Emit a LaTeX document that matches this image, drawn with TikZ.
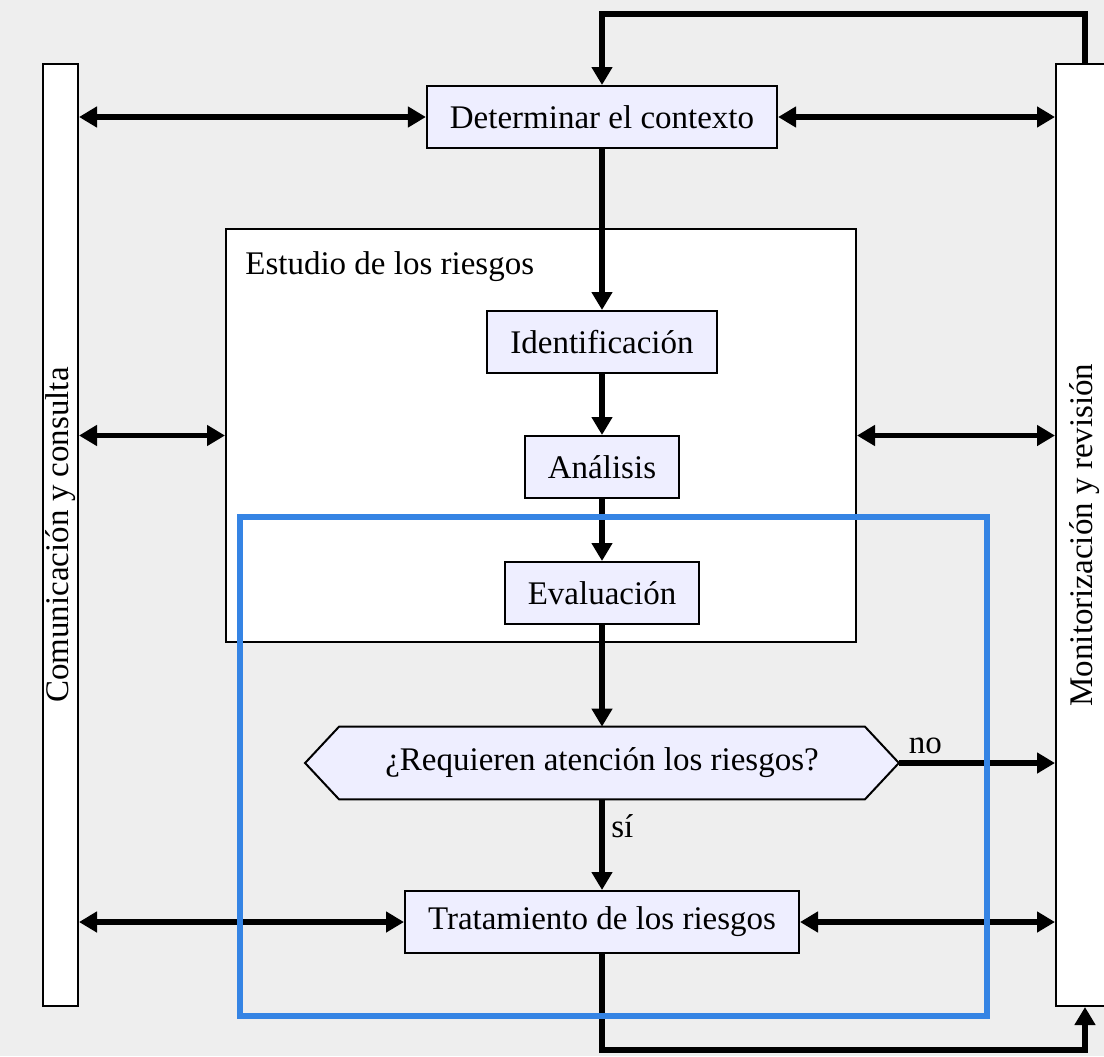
\documentclass[tikz,border=0pt]{standalone}
\usepackage{fontspec}
\setmainfont{Liberation Serif}
\usetikzlibrary{arrows.meta,backgrounds}
\definecolor{fondo}{RGB}{238,238,238}
\definecolor{lila}{RGB}{238,238,255}
\definecolor{azul}{RGB}{53,132,228}
\tikzset{
  paso/.style={draw, line width=1pt, fill=lila, minimum height=31pt, inner xsep=11.5pt},
  lateral/.style={draw, line width=1pt, fill=white, rotate=90, minimum width=471pt, inner sep=0pt},
  punta/.tip={Triangle[length=9pt,width=10pt]},
  flecha/.style={line width=2.6pt, -punta},
  doble/.style={line width=2.6pt, punta-punta}
}
\begin{document}
\begin{tikzpicture}[x=0.5pt, y=-0.5pt, auto, font=\fontsize{16.5}{19}\selectfont]
	\useasboundingbox (0,0) rectangle (1104,1056);
	\node (com) [lateral, minimum height=17.5pt] at (60.5,535) {Comunicación y consulta};
	\node (mon) [lateral, minimum height=29pt] at (1085,535) {Monitorización y revisión};
	\node (est) [draw, line width=1pt, fill=white, minimum width=315pt, minimum height=206.5pt] at (541,435.5) {};
	\node (estlbl) [anchor=west, inner sep=0pt] at ([xshift=10pt,yshift=-19.5pt]est.north west) {Estudio de los riesgos};
	\node (ctx) [paso] at (602,117) {Determinar el contexto};
	\node (ident) [paso] at (602,342) {Identificación};
	\node (anal) [paso] at (602,467) {Análisis};
	\node (eval) [paso] at (602,593) {Evaluación};
	\node (preg) [minimum width=262.5pt, minimum height=36pt] at (602,763) {¿Requieren atención los riesgos?};
	\node (trat) [paso] at (602,922) {Tratamiento de los riesgos};
	\coordinate (tip) at ([xshift=17pt]preg.east);
	\coordinate (arriba) at (602,14);
	\coordinate (abajo) at (602,1050);
	\begin{scope}[on background layer]
		\fill[fondo] (0,0) rectangle (1104,1056);
		\draw[line width=1pt, fill=lila] (preg.north west) -- (preg.north east) -- (tip) -- (preg.south east) -- (preg.south west) -- ([xshift=-17pt]preg.west) -- cycle;
	\end{scope}
	% flujo principal
	\draw[flecha] (mon.east) |- (arriba) -- (ctx.north);
	\draw[flecha] (ctx) to (ident);
	\draw[flecha] (ident) to (anal);
	\draw[flecha] (anal) to (eval);
	\draw[flecha] (eval) to (preg);
	\draw[flecha] (preg) to node [pos=0.3] {sí} (trat);
	\draw[flecha] (tip) to node [pos=0.17] {no} (tip -| mon.north);
	\draw[flecha] (trat.south) -- (abajo) -| (mon.west);
	% comunicacion y monitorizacion
	\draw[doble] (ctx.west -| com.south) -- (ctx.west);
	\draw[doble] (ctx.east) -- (ctx.east -| mon.north);
	\draw[doble] (est.west -| com.south) -- (est.west);
	\draw[doble] (est.east) -- (est.east -| mon.north);
	\draw[doble] (trat.west -| com.south) -- (trat.west);
	\draw[doble] (trat.east) -- (trat.east -| mon.north);
	\draw[azul, line width=3pt] (240,517) rectangle (987,1016);
\end{tikzpicture}
\end{document}
